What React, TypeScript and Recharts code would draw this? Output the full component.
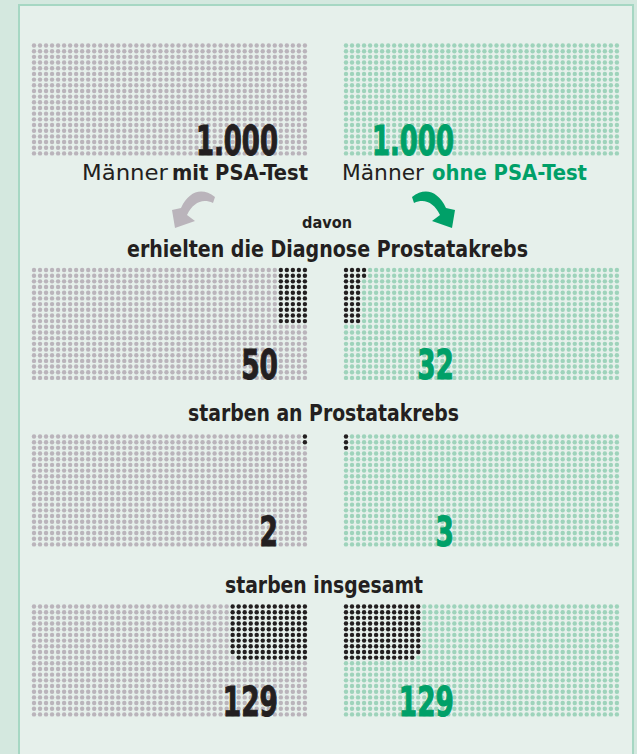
import React from 'react'
import { ScatterChart, Scatter, XAxis, YAxis } from 'recharts'

const W = 637
const H = 754

const groups = ['mit PSA-Test', 'ohne PSA-Test']
const menTotal = [1000, 1000]
const diagnosed = [50, 32]
const diedOfCancer = [2, 3]
const diedTotal = [129, 129]
const stepTitles = [
  'erhielten die Diagnose Prostatakrebs',
  'starben an Prostatakrebs',
  'starben insgesamt',
]

const GREY = '#bab4bb'
const MINT = '#9ed3bb'
const INK = '#231f20'
const GREEN = '#00a068'
const PANEL = '#e6f0eb'
const OUTER = '#d4e8df'
const BORDER = '#a6d7c3'
const FONT = "'DejaVu Sans Condensed', 'Liberation Sans Narrow', sans-serif"

// dot field layout (pixels, identity scales)
const COLS = 46
const ROWS = 20
const DX = 6.02
const DY = 5.68
const X0 = [34, 346]
const FIELD_TOPS = [43.5, 268, 434.5, 604.5]
const COL_H = 10 // highlighted dots fill columns of ten, from the centre outwards

type Dot = { x: number; y: number }

const fmt = (n: number) => String(n).replace(/\B(?=(\d{3})+(?!\d))/g, '.')

function buildField(field: number, side: number, marked: number) {
  const base: Dot[] = []
  const hit: Dot[] = []
  const y0 = FIELD_TOPS[field] + 2
  for (let c = 0; c < COLS; c++) {
    const inner = side === 0 ? COLS - 1 - c : c
    for (let r = 0; r < ROWS; r++) {
      const p = { x: X0[side] + c * DX, y: y0 + r * DY }
      if (r < COL_H && inner * COL_H + r < marked) hit.push(p)
      else base.push(p)
    }
  }
  return { base, hit }
}

const fieldCounts = [menTotal, diagnosed, diedOfCancer, diedTotal]
const greyDots: Dot[] = []
const mintDots: Dot[] = []
const inkDots: Dot[] = []
fieldCounts.forEach((vals, f) => {
  vals.forEach((v, s) => {
    // the first field is the whole group, nothing highlighted
    const { base, hit } = buildField(f, s, f === 0 ? 0 : v)
    ;(s === 0 ? greyDots : mintDots).push(...base)
    inkDots.push(...hit)
  })
})

const dot = (r: number, fill: string) => (props: any) =>
  <circle cx={props.cx} cy={props.cy} r={r} fill={fill} />

// rough pixel width per digit / dot of the condensed numerals
const numWidth = (s: string) => s.replace(/\./g, '').length * 18.4 + (s.includes('.') ? 8.5 : 0)

const ARROW = 'M 412 197 C 425 187, 438 191, 446 208 L 455 210 L 452 228 L 432 221 L 440 215 C 434 203, 425 198, 414 203 Z'

const titleY = [257, 421, 593]
const titleX = [327.5, 323.5, 324]
const titleW = [401, 271, 198]

export default function App() {
  const baselines = FIELD_TOPS.map((t) => t + 111)
  return (
    <div style={{ position: 'absolute', left: 0, top: 0, width: W, height: H, background: OUTER, overflow: 'hidden' }}>
      <div
        style={{
          position: 'absolute',
          left: 18,
          top: 4,
          width: 612,
          height: 780,
          background: PANEL,
          border: `2px solid ${BORDER}`,
        }}
      />
      <div style={{ position: 'absolute', left: 0, top: 0 }}>
        <ScatterChart width={W} height={H} margin={{ top: 0, right: 0, bottom: 0, left: 0 }}>
          <XAxis type="number" dataKey="x" domain={[0, W]} hide />
          <YAxis type="number" dataKey="y" domain={[0, H]} reversed hide />
          <Scatter data={greyDots} shape={dot(2.2, GREY)} isAnimationActive={false} />
          <Scatter data={mintDots} shape={dot(2.2, MINT)} isAnimationActive={false} />
          <Scatter data={inkDots} shape={dot(2.2, INK)} isAnimationActive={false} />
        </ScatterChart>
      </div>
      <svg width={W} height={H} style={{ position: 'absolute', left: 0, top: 0 }}>
        {fieldCounts.map((vals, f) =>
          vals.map((v, s) => {
            const label = fmt(v)
            const col = s === 0 ? INK : GREEN
            return (
              <text
                key={`n${f}${s}`}
                x={s === 0 ? 278 : 454}
                y={baselines[f]}
                textAnchor="end"
                textLength={numWidth(label)}
                lengthAdjust="spacingAndGlyphs"
                fontFamily={FONT}
                fontWeight={700}
                fontSize={40}
                fill={col}
                stroke={col}
                strokeWidth={1}
              >
                {label}
              </text>
            )
          })
        )}
        <text x={82} y={180} textLength={86} lengthAdjust="spacingAndGlyphs" fontFamily={FONT} fontSize={22} fill={INK}>
          Männer
        </text>
        <text x={172} y={180} textLength={136} lengthAdjust="spacingAndGlyphs" fontFamily={FONT} fontWeight={700} fontSize={22} fill={INK}>
          {groups[0]}
        </text>
        <text x={342} y={180} textLength={82} lengthAdjust="spacingAndGlyphs" fontFamily={FONT} fontSize={22} fill={INK}>
          Männer
        </text>
        <text x={432} y={180} textLength={155} lengthAdjust="spacingAndGlyphs" fontFamily={FONT} fontWeight={700} fontSize={22} fill={GREEN}>
          {groups[1]}
        </text>
        <path d={ARROW} fill={GREY} transform="translate(627,0) scale(-1,1)" />
        <path d={ARROW} fill={GREEN} />
        <text x={302} y={228} textLength={50} lengthAdjust="spacingAndGlyphs" fontFamily={FONT} fontWeight={700} fontSize={16} fill={INK}>
          davon
        </text>
        {stepTitles.map((t, i) => (
          <text
            key={t}
            x={titleX[i] - titleW[i] / 2}
            y={titleY[i]}
            textLength={titleW[i]}
            lengthAdjust="spacingAndGlyphs"
            fontFamily={FONT}
            fontWeight={700}
            fontSize={23}
            fill={INK}
          >
            {t}
          </text>
        ))}
      </svg>
    </div>
  )
}
